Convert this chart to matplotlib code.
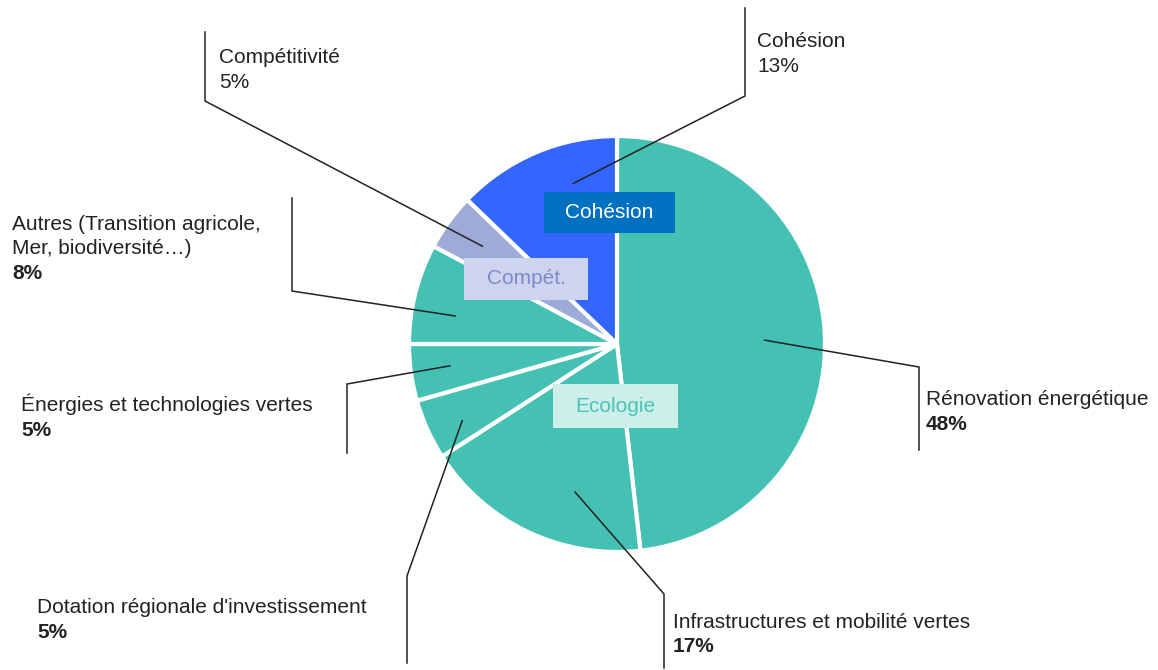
import numpy as np
import matplotlib.pyplot as plt
from matplotlib.patches import Rectangle

plt.rcParams['font.family'] = ['Liberation Sans', 'DejaVu Sans']

names = ['Rénovation énergétique', 'Infrastructures et mobilité vertes',
         "Dotation régionale d'investissement", 'Énergies et technologies vertes',
         'Autres (Transition agricole,\nMer, biodiversité…)', 'Compétitivité', 'Cohésion']
shares = [48.2, 17.7, 4.7, 4.4, 7.8, 4.4, 12.8]
pct_labels = ['48%', '17%', '5%', '5%', '8%', '5%', '13%']
pct_bold = [True, True, True, True, True, False, False]
groups = ['Ecologie', 'Ecologie', 'Ecologie', 'Ecologie', 'Ecologie', 'Compét.', 'Cohésion']

colors = {'Ecologie': '#45c1b4', 'Compét.': '#9eaad7', 'Cohésion': '#3366ff'}

W, H = 1158, 670
cx, cy, R = 617, 344, 208
TXT = '#222222'
FS = 15
LH = 24.5  # line height in px

# per label: position along wedge, radius frac, elbow (x, y), end y, text x, first baseline
leaders = [
    (0.51, 0.71, 919, 367, 450, 926, 405),
    (0.35, 0.74, 664, 594, 668, 673, 628),
    (0.38, 0.83, 407, 576, 663, 37, 613),
    (0.53, 0.81, 347, 384, 453, 21, 411),
    (0.35, 0.79, 292, 291, 198, 12, 230),
    (0.50, 0.80, 205, 101, 32, 219, 63),
    (0.67, 0.80, 745, 96, 8, 757, 47),
]

fig = plt.figure(figsize=(W / 100, H / 100), dpi=100)
ax = fig.add_axes([0, 0, 1, 1])

wedges, _ = ax.pie(shares, colors=[colors[g] for g in groups], startangle=270,
                   counterclock=True, center=(cx, cy), radius=R,
                   wedgeprops=dict(edgecolor='white', linewidth=3, joinstyle='round'))
ax.set_xlim(0, W)
ax.set_ylim(H, 0)
ax.set_aspect('auto')
ax.axis('off')

for w, name, pct, bold, (t, rf, ex, ey, endy, tx, ty) in zip(
        wedges, names, pct_labels, pct_bold, leaders):
    th = np.deg2rad(w.theta1 + t * (w.theta2 - w.theta1))
    px, py = cx + rf * R * np.cos(th), cy + rf * R * np.sin(th)
    ax.plot([px, ex, ex], [py, ey, endy], color='#222222', lw=1.1,
            solid_joinstyle='miter')
    lines = name.split('\n')
    for i, line in enumerate(lines):
        ax.text(tx, ty + LH * i, line, fontsize=FS, color=TXT, va='baseline', ha='left')
    ax.text(tx, ty + LH * len(lines), pct, fontsize=FS, color=TXT, va='baseline',
            ha='left', fontweight='bold' if bold else 'normal')

# group tags
tags = [
    ('Cohésion', 609, 212, 131, 41, '#0070c0', 'white'),
    ('Compét.', 526, 279, 124, 42, '#ced3ee', '#7c8bcb'),
    ('Ecologie', 615, 406, 125, 44, '#ccefea', '#4cc3b6'),
]
for label, x, y, bw, bh, fc, tc in tags:
    ax.add_patch(Rectangle((x - bw / 2, y - bh / 2), bw, bh, facecolor=fc,
                           edgecolor='none', zorder=3))
    ax.text(x, y, label, fontsize=FS, color=tc, ha='center', va='center', zorder=4)

fig.savefig('out.png', dpi=100, facecolor='white')
